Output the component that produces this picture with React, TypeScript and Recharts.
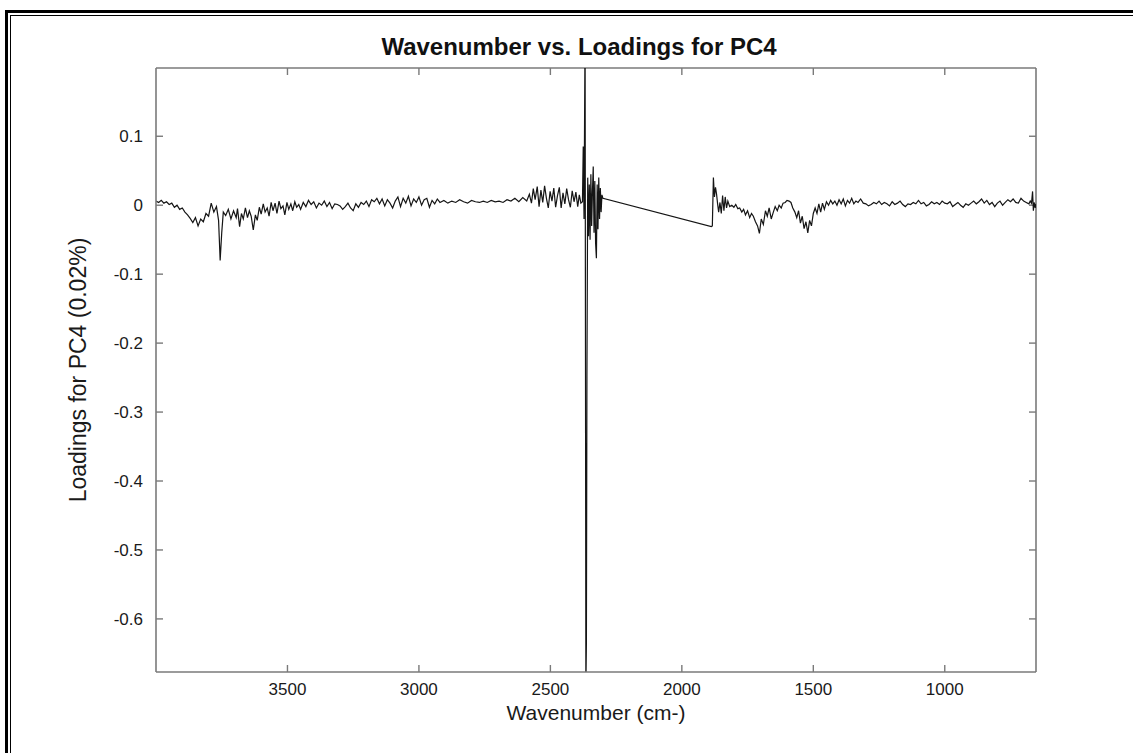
import React from 'react';
import { LineChart, Line, XAxis, YAxis, ReferenceLine } from 'recharts';

const chartTitle = 'Wavenumber vs. Loadings for PC4';
const xAxisTitle = 'Wavenumber (cm-)';
const yAxisTitle = 'Loadings for PC4 (0.02%)';
const xTicks = [1000, 1500, 2000, 2500, 3000, 3500];
const yTicks = [-0.6, -0.5, -0.4, -0.3, -0.2, -0.1, 0, 0.1];
const xDomain: [number, number] = [653, 4000];
const yDomain: [number, number] = [-0.677, 0.199];

// [wavenumber, loading]
const regionOH: [number, number][] = [
  [4000, 0.006], [3990, 0.004], [3980, 0.007], [3970, 0.003], [3960, 0.005], [3950, 0.001],
  [3940, 0.003], [3930, -0.003], [3920, 0.0], [3910, -0.006], [3900, -0.004], [3890, -0.01],
  [3880, -0.014], [3870, -0.019], [3860, -0.025], [3850, -0.018], [3840, -0.03], [3830, -0.02],
  [3820, -0.024], [3810, -0.012], [3800, -0.016], [3790, 0.003], [3780, -0.01], [3770, -0.002],
  [3762, -0.022], [3756, -0.08], [3750, -0.04], [3744, -0.01], [3735, -0.015], [3725, -0.006],
  [3715, -0.02], [3705, -0.008], [3695, -0.018], [3690, -0.005], [3682, -0.031], [3675, -0.012],
  [3668, -0.02], [3660, -0.004], [3652, -0.018], [3645, -0.008], [3638, -0.016], [3630, -0.036],
  [3622, -0.014], [3615, -0.022], [3607, -0.003], [3600, -0.013], [3592, 0.002], [3585, -0.01],
  [3577, -0.004], [3570, -0.016], [3562, 0.004], [3555, -0.008], [3547, 0.003], [3540, -0.012],
  [3532, 0.006], [3525, -0.005], [3517, -0.001], [3510, -0.014], [3502, 0.004], [3495, -0.006],
  [3487, 0.002], [3480, -0.008], [3472, 0.005], [3465, -0.003], [3457, 0.001], [3450, -0.006],
];

const regionCH: [number, number][] = [
  [3440, 0.004], [3430, -0.002], [3420, 0.007], [3410, 0.001], [3400, 0.005], [3390, -0.004],
  [3380, 0.003], [3370, 0.0], [3360, 0.006], [3350, -0.002], [3340, 0.004], [3330, -0.005],
  [3320, 0.002], [3310, 0.001], [3300, -0.001], [3290, -0.006], [3280, -0.002], [3270, 0.003],
  [3260, -0.004], [3250, -0.008], [3240, 0.002], [3230, -0.003], [3220, 0.004], [3210, 0.001],
  [3200, 0.006], [3190, -0.002], [3180, 0.008], [3170, 0.005], [3160, 0.01], [3150, 0.002],
  [3140, 0.009], [3130, -0.001], [3120, 0.008], [3110, 0.003], [3100, -0.004], [3090, 0.006],
  [3080, 0.012], [3070, -0.002], [3060, 0.01], [3050, 0.003], [3040, 0.013], [3030, -0.001],
  [3020, 0.009], [3010, 0.004], [3000, 0.012], [2990, 0.0], [2980, 0.008], [2970, 0.01],
  [2960, -0.003], [2950, 0.007], [2940, 0.002], [2930, 0.009], [2920, 0.004], [2905, 0.007],
  [2890, 0.003], [2875, 0.006], [2860, 0.004], [2845, 0.008], [2830, 0.005], [2815, 0.003],
  [2800, 0.007], [2785, 0.005], [2770, 0.004], [2755, 0.006], [2740, 0.004], [2725, 0.007],
  [2710, 0.005], [2695, 0.006], [2680, 0.004], [2665, 0.008], [2650, 0.006], [2635, 0.01],
  [2620, 0.005], [2605, 0.011],
];

const regionCO2: [number, number][] = [
  [2590, 0.006], [2580, 0.016], [2572, 0.003], [2565, 0.024], [2558, 0.008], [2550, 0.027],
  [2543, -0.002], [2536, 0.022], [2529, 0.004], [2522, 0.028], [2515, 0.01], [2508, -0.004],
  [2501, 0.02], [2494, 0.006], [2487, 0.025], [2480, -0.003], [2473, 0.014], [2466, 0.026],
  [2459, -0.004], [2452, 0.018], [2445, 0.002], [2438, 0.024], [2431, 0.008], [2424, -0.003],
  [2417, 0.021], [2410, 0.005], [2403, 0.019], [2396, -0.002], [2390, 0.015], [2384, 0.003],
  [2378, 0.005], [2375, 0.085], [2372, -0.02], [2368, 0.26], [2365, -0.7], [2363, -0.635],
  [2361, -0.25], [2358, 0.04], [2355, -0.045], [2352, 0.03], [2349, -0.05], [2346, 0.045],
  [2343, -0.03], [2340, 0.02], [2337, 0.056], [2334, -0.04], [2331, 0.035], [2328, -0.055],
  [2325, -0.077], [2322, 0.03], [2319, -0.035], [2316, 0.04], [2313, -0.02], [2310, 0.025],
  [2307, -0.01], [2304, 0.015], [2300, 0.01],
];

const regionFingerprint: [number, number][] = [
  [1888, -0.031], [1884, -0.03], [1880, 0.04], [1876, 0.012], [1872, 0.026], [1868, 0.016],
  [1864, 0.002], [1860, -0.01], [1855, 0.004], [1850, -0.012], [1845, 0.014], [1840, -0.008],
  [1835, 0.012], [1830, -0.004], [1825, 0.006], [1818, -0.002], [1810, 0.0], [1802, -0.003],
  [1795, 0.001], [1787, -0.005], [1780, -0.004], [1772, -0.01], [1765, -0.006], [1758, -0.014],
  [1750, -0.008], [1742, -0.018], [1735, -0.012], [1728, -0.016], [1720, -0.024], [1712, -0.03],
  [1705, -0.041], [1698, -0.02], [1690, -0.028], [1682, -0.008], [1675, -0.016], [1668, -0.004],
  [1660, -0.02], [1652, -0.01], [1645, -0.002], [1637, -0.008], [1630, 0.0], [1622, -0.004],
  [1615, 0.003], [1607, 0.004], [1600, 0.007], [1592, 0.006], [1585, 0.004], [1578, -0.004],
  [1570, -0.01], [1563, -0.018], [1556, -0.008], [1549, -0.026], [1542, -0.016], [1535, -0.034],
  [1528, -0.024], [1521, -0.04], [1514, -0.022], [1507, -0.03], [1500, -0.012], [1493, -0.004],
  [1486, -0.012], [1479, 0.002], [1472, -0.01], [1465, 0.003], [1458, -0.006], [1450, 0.005],
  [1442, 0.0], [1434, 0.007], [1426, 0.002], [1418, 0.006], [1410, 0.0], [1402, 0.008],
  [1394, 0.002], [1386, 0.009], [1378, -0.001], [1370, 0.007], [1362, 0.003], [1354, 0.01],
  [1346, 0.002], [1338, 0.006], [1330, 0.004], [1320, 0.009], [1310, 0.003], [1300, 0.002],
  [1290, -0.001], [1280, 0.001], [1270, 0.004], [1260, 0.002], [1250, 0.006], [1240, 0.001],
  [1230, 0.004], [1220, 0.002], [1210, -0.001], [1200, 0.005], [1190, 0.001], [1180, 0.003],
  [1170, 0.006], [1160, 0.001], [1150, -0.002], [1140, 0.002], [1130, 0.001], [1120, 0.004],
  [1110, 0.002], [1100, 0.007], [1090, 0.002], [1080, 0.004], [1070, -0.001], [1060, 0.001],
  [1050, 0.005], [1040, 0.002], [1030, 0.004], [1020, 0.001], [1010, 0.006], [1000, 0.003],
  [990, 0.002], [980, 0.005], [970, -0.002], [960, 0.001], [950, 0.004], [940, 0.0],
  [930, -0.003], [920, 0.002], [910, 0.0], [900, 0.003], [890, 0.006], [880, 0.002],
  [870, 0.005], [860, 0.009], [850, 0.003], [840, 0.007], [830, 0.001], [820, 0.004],
  [810, -0.002], [800, 0.003], [790, 0.006], [780, 0.0], [770, 0.004], [760, 0.008],
  [750, 0.005], [740, 0.009], [730, 0.004], [720, 0.003], [710, 0.01], [700, 0.006],
  [690, 0.004], [680, 0.002], [675, 0.006], [670, 0.003], [666, 0.02], [663, -0.008],
  [660, 0.004], [656, -0.004], [653, 0.002],
];

const data = [...regionOH, ...regionCH, ...regionCO2, ...regionFingerprint].map(
  ([wn, loading]) => ({ wn, loading })
);

const FONT = '"Liberation Sans", Arial, Helvetica, sans-serif';
const AXIS_COLOR = '#7a7a7a';
const tickStyle = { fill: '#1a1a1a', fontSize: 17, fontFamily: FONT };

const CHART_W = 1133;
const CHART_H = 753;
const MARGIN = { top: 68, right: 97, bottom: 0, left: 0 };
const Y_AXIS_W = 156;
const X_AXIS_H = 81;
const PLOT_W = CHART_W - MARGIN.left - MARGIN.right - Y_AXIS_W;
const PLOT_H = CHART_H - MARGIN.top - MARGIN.bottom - X_AXIS_H;
const TICK_PX = 7;
// inward tick length expressed in data units of each axis
const xTickLen = (TICK_PX * (xDomain[1] - xDomain[0])) / PLOT_W;
const yTickLen = (TICK_PX * (yDomain[1] - yDomain[0])) / PLOT_H;

const tickLineProps = { stroke: AXIS_COLOR, strokeWidth: 1.4, ifOverflow: 'visible' as const };

export default function App() {
  return (
    <div
      style={{
        position: 'absolute',
        left: 0,
        top: 0,
        width: CHART_W,
        height: CHART_H,
        background: '#fff',
        overflow: 'hidden',
        fontFamily: FONT,
      }}
    >
      <div
        style={{
          position: 'absolute',
          left: 5,
          top: 10,
          width: CHART_W,
          height: CHART_H,
          borderTop: '3px solid #000',
          borderLeft: '3px solid #000',
        }}
      />
      <div
        style={{
          position: 'absolute',
          left: 10,
          top: 15,
          width: CHART_W,
          height: CHART_H,
          borderTop: '1px solid #000',
          borderLeft: '1px solid #000',
        }}
      />
      <div
        style={{
          position: 'absolute',
          left: 139,
          width: 880,
          top: 32,
          textAlign: 'center',
          fontWeight: 'bold',
          fontSize: 24,
          color: '#111',
          lineHeight: '30px',
        }}
      >
        {chartTitle}
      </div>
      <div style={{ position: 'absolute', left: 0, top: 0 }}>
        <LineChart width={CHART_W} height={CHART_H} data={data} margin={MARGIN}>
          <XAxis
            dataKey="wn"
            type="number"
            domain={xDomain}
            reversed
            allowDataOverflow
            ticks={xTicks}
            height={X_AXIS_H}
            tickLine={false}
            tickSize={0}
            tickMargin={11}
            tick={tickStyle}
            stroke={AXIS_COLOR}
            strokeWidth={1.6}
            label={{
              value: xAxisTitle,
              position: 'center',
              fill: '#1a1a1a',
              fontSize: 21,
              fontFamily: FONT,
            }}
          />
          <YAxis
            type="number"
            domain={yDomain}
            allowDataOverflow
            ticks={yTicks}
            width={Y_AXIS_W}
            tickLine={false}
            tickSize={0}
            tickMargin={13}
            tick={tickStyle}
            stroke={AXIS_COLOR}
            strokeWidth={1.6}
            label={{
              value: yAxisTitle,
              position: 'center',
              angle: -90,
              fill: '#1a1a1a',
              fontSize: 23,
              fontFamily: FONT,
            }}
          />
          <ReferenceLine y={yDomain[1]} stroke={AXIS_COLOR} strokeWidth={1.6} />
          <ReferenceLine x={xDomain[0]} stroke={AXIS_COLOR} strokeWidth={1.6} />
          {xTicks.map((t) => (
            <ReferenceLine
              key={`b${t}`}
              segment={[
                { x: t, y: yDomain[0] },
                { x: t, y: yDomain[0] + yTickLen },
              ]}
              {...tickLineProps}
            />
          ))}
          {xTicks.map((t) => (
            <ReferenceLine
              key={`t${t}`}
              segment={[
                { x: t, y: yDomain[1] },
                { x: t, y: yDomain[1] - yTickLen },
              ]}
              {...tickLineProps}
            />
          ))}
          {yTicks.map((t) => (
            <ReferenceLine
              key={`l${t}`}
              segment={[
                { x: xDomain[1], y: t },
                { x: xDomain[1] - xTickLen, y: t },
              ]}
              {...tickLineProps}
            />
          ))}
          {yTicks.map((t) => (
            <ReferenceLine
              key={`r${t}`}
              segment={[
                { x: xDomain[0], y: t },
                { x: xDomain[0] + xTickLen, y: t },
              ]}
              {...tickLineProps}
            />
          ))}
          <Line
            type="linear"
            dataKey="loading"
            stroke="#151515"
            strokeWidth={1.2}
            dot={false}
            activeDot={false}
            isAnimationActive={false}
          />
        </LineChart>
      </div>
    </div>
  );
}
